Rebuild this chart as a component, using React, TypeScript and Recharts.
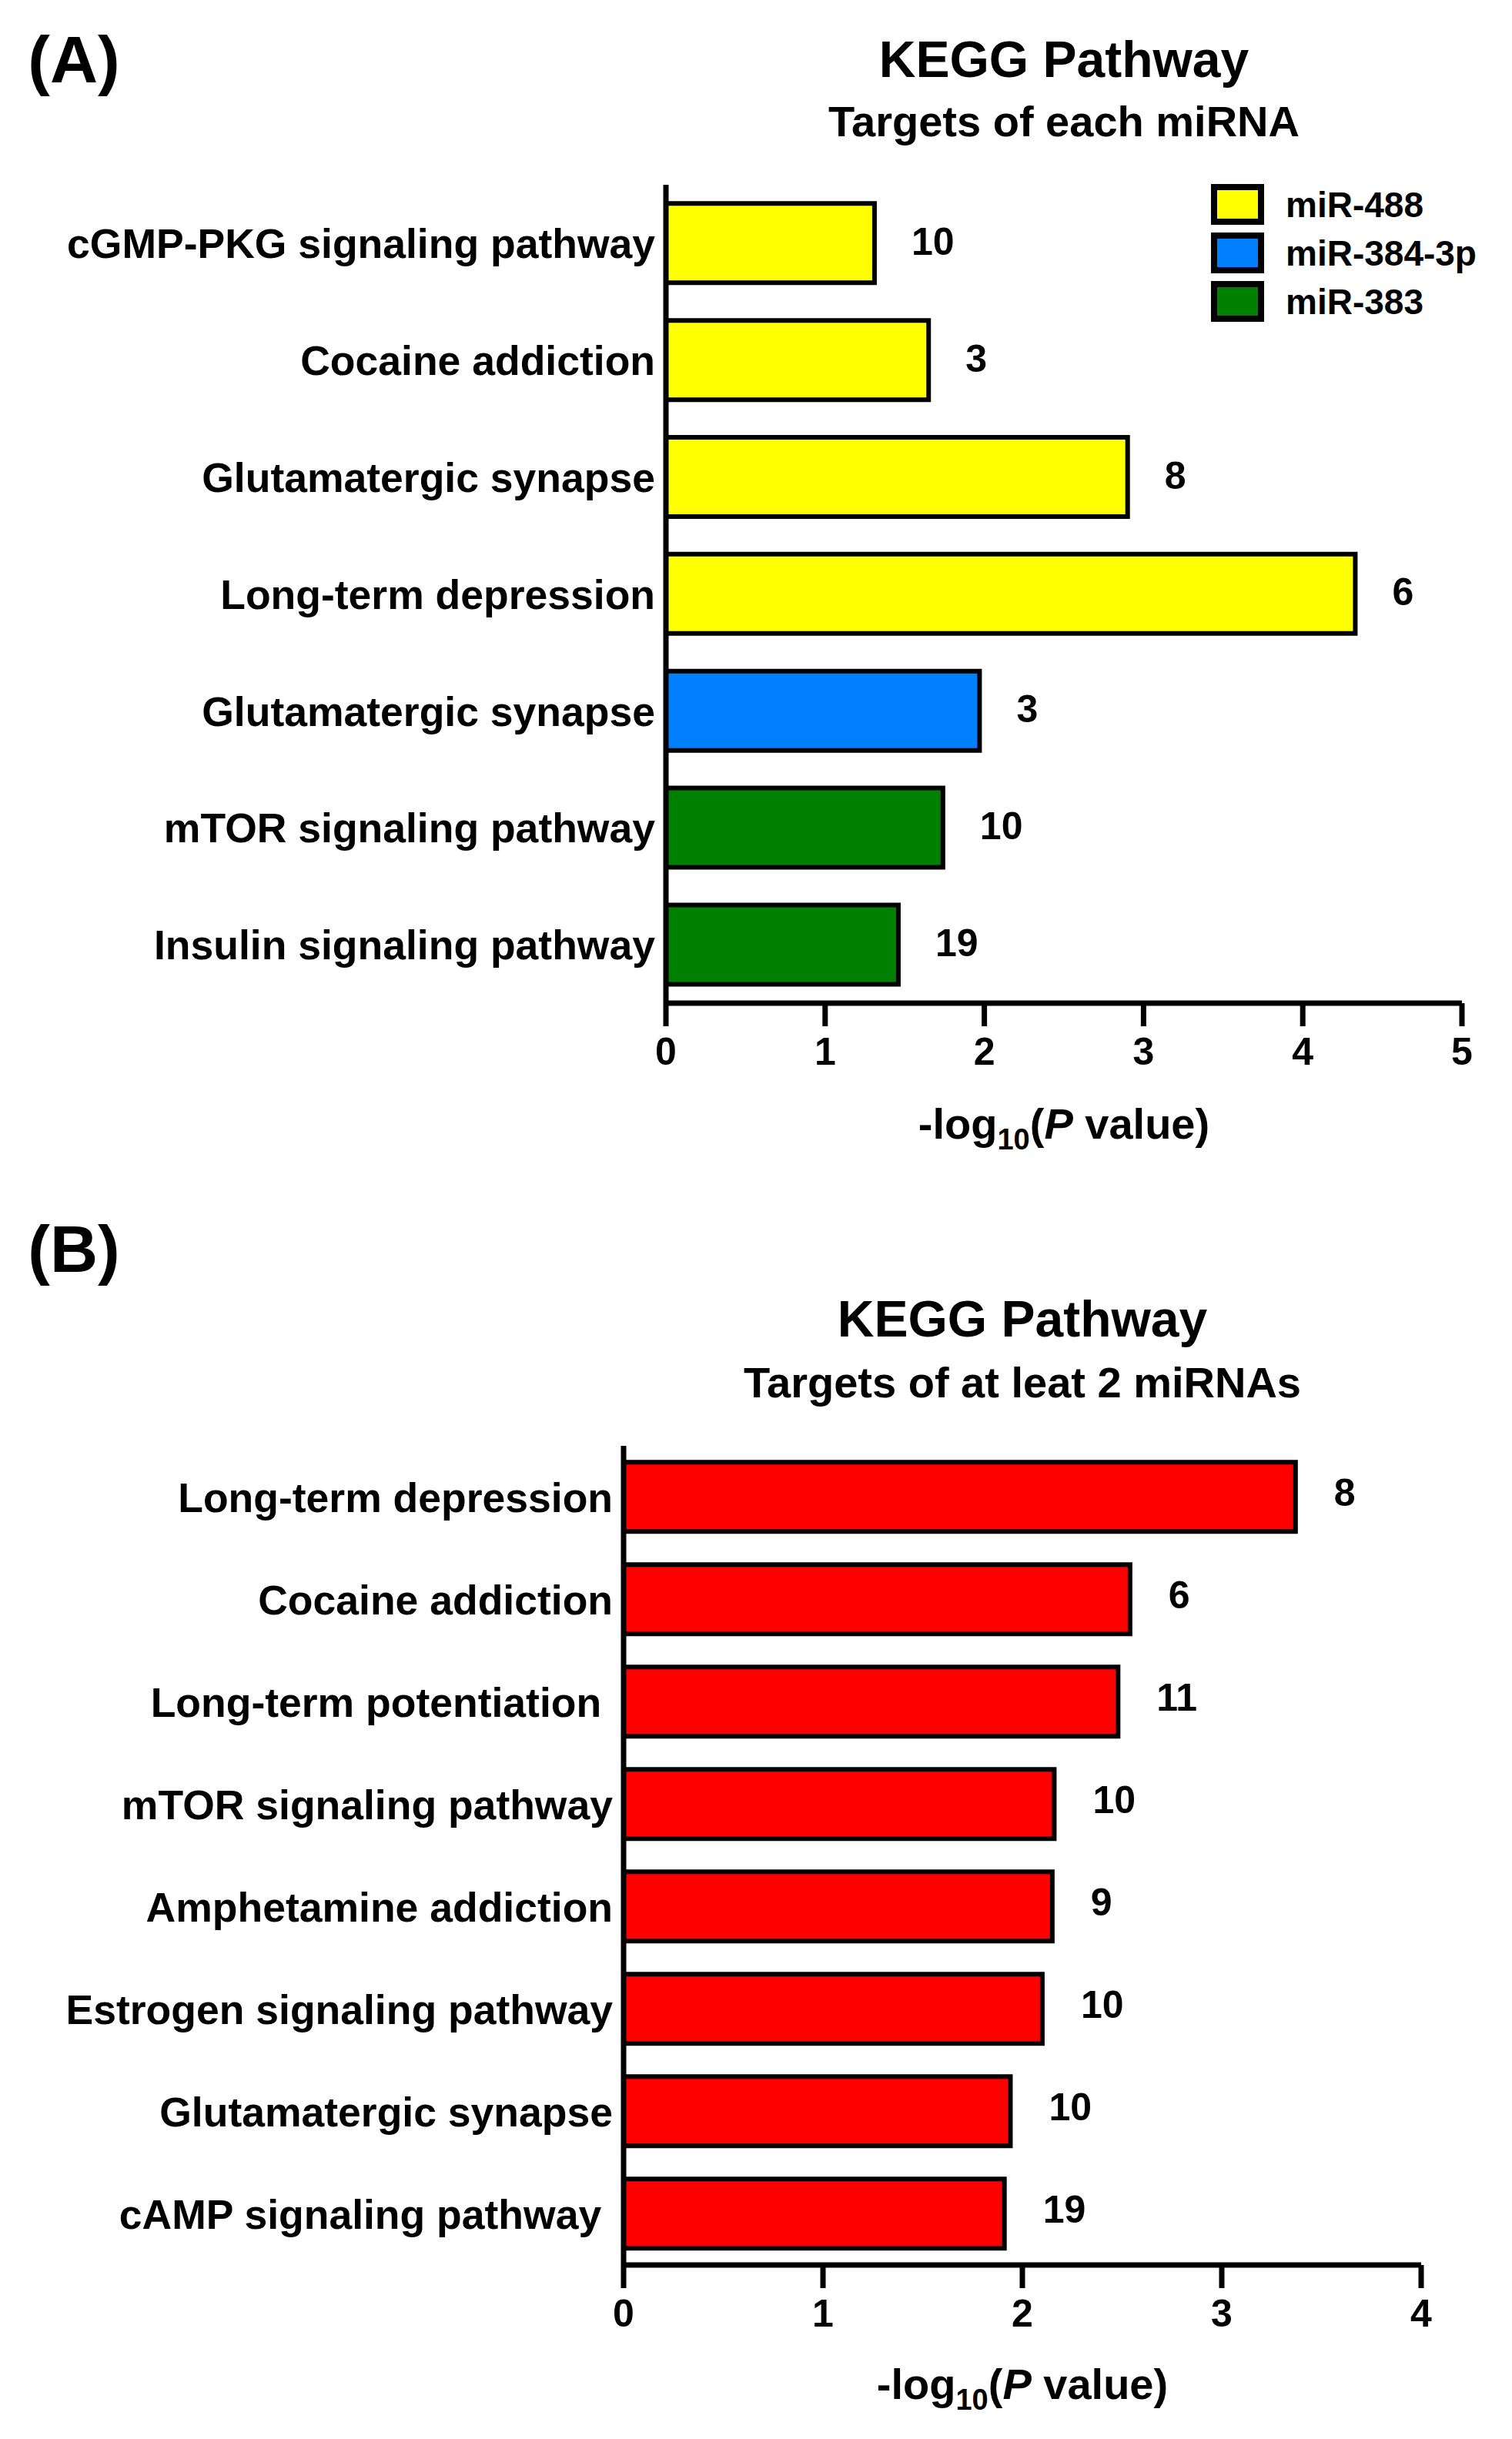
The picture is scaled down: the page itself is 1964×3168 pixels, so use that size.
import React from 'react';
import { BarChart, Bar, XAxis, YAxis, Cell, LabelList, Label, Legend } from 'recharts';

const FONT = 'Arial, "Liberation Sans", Helvetica, sans-serif';

// ---------- Panel A data ----------
const aPathways = [
  'cGMP-PKG signaling pathway',
  'Cocaine addiction',
  'Glutamatergic synapse',
  'Long-term depression',
  'Glutamatergic synapse',
  'mTOR signaling pathway',
  'Insulin signaling pathway',
];
const aValues = [1.31, 1.65, 2.9, 4.33, 1.97, 1.74, 1.46];
const aCounts = [10, 3, 8, 6, 3, 10, 19];
const aGroups = ['miR-488', 'miR-488', 'miR-488', 'miR-488', 'miR-384-3p', 'miR-383', 'miR-383'];
const aTicks = [0, 1, 2, 3, 4, 5];

// ---------- Legend ----------
const legendNames = ['miR-488', 'miR-384-3p', 'miR-383'];
const legendColors = ['#FFFF00', '#0080FF', '#008000'];

// ---------- Panel B data ----------
const bPathways = [
  'Long-term depression',
  'Cocaine addiction',
  'Long-term potentiation ',
  'mTOR signaling pathway',
  'Amphetamine addiction',
  'Estrogen signaling pathway',
  'Glutamatergic synapse',
  'cAMP signaling pathway ',
];
const bValues = [3.37, 2.54, 2.48, 2.16, 2.15, 2.1, 1.94, 1.91];
const bCounts = [8, 6, 11, 10, 9, 10, 10, 19];
const bTicks = [0, 1, 2, 3, 4];
const bColor = '#FF0000';

const aData = aPathways.map((p, i) => ({
  key: p + '|' + aGroups[i],
  name: p,
  value: aValues[i],
  count: aCounts[i],
  group: aGroups[i],
}));
const bData = bPathways.map((p, i) => ({
  key: p + '|' + i,
  name: p,
  value: bValues[i],
  count: bCounts[i],
}));

const colorOf = (g: string) => legendColors[legendNames.indexOf(g)];

const CatTick = (props: any) => {
  const { x, y, payload } = props;
  const name = String(payload.value).split('|')[0];
  return (
    <text
      x={x}
      y={y}
      dy="0.36em"
      textAnchor="end"
      fill="#000"
      fontFamily={FONT}
      fontWeight={700}
      fontSize={53.5}
      style={{ whiteSpace: 'pre' }}
    >
      {name}
    </text>
  );
};

const makeValueLabel = (offset: number, lift: number) => (props: any) => {
  const { x, y, width, height, value } = props;
  return (
    <text
      x={Number(x) + Number(width) + offset}
      y={Number(y) + Number(height) / 2 - lift}
      dy="0.36em"
      textAnchor="start"
      fill="#000"
      fontFamily={FONT}
      fontWeight={700}
      fontSize={50}
    >
      {value}
    </text>
  );
};

const makeAxisTitle = (dyOff: number) => (props: any) => {
  const vb = props.viewBox || {};
  const cx = vb.x + vb.width / 2;
  const cy = vb.y + dyOff;
  return (
    <text
      x={cx}
      y={cy}
      dy="0.36em"
      textAnchor="middle"
      fill="#000"
      fontFamily={FONT}
      fontWeight={700}
      fontSize={56}
    >
      <tspan>-log</tspan>
      <tspan fontSize={38} dy={14}>10</tspan>
      <tspan dy={-14}>(</tspan>
      <tspan fontStyle="italic">P</tspan>
      <tspan> value)</tspan>
    </text>
  );
};

const LegendBox = () => (
  <div style={{ fontFamily: FONT, fontWeight: 700, fontSize: 46, color: '#000' }}>
    {legendNames.map((n, i) => (
      <div key={n} style={{ display: 'flex', alignItems: 'center', height: 63 }}>
        <div
          style={{
            width: 53,
            height: 37,
            background: legendColors[i],
            border: '8px solid #000',
            marginRight: 28,
          }}
        />
        <span style={{ lineHeight: 1 }}>{n}</span>
      </div>
    ))}
  </div>
);

const textCenter = (x: number, y: number, size: number, text: string) => (
  <div
    style={{
      position: 'absolute',
      left: x,
      top: y,
      transform: 'translate(-50%, -50%)',
      fontFamily: FONT,
      fontWeight: 700,
      fontSize: size,
      lineHeight: 1,
      whiteSpace: 'nowrap',
      color: '#000',
    }}
  >
    {text}
  </div>
);

export default function App() {
  return (
    <div
      style={{
        position: 'absolute',
        left: 0,
        top: 0,
        width: 1964,
        height: 3168,
        background: '#fff',
        overflow: 'hidden',
      }}
    >
      {/* Panel letters & titles */}
      {textCenter(96, 77, 86, '(A)')}
      {textCenter(1382, 77, 66, 'KEGG Pathway')}
      {textCenter(1382, 158, 56, 'Targets of each miRNA')}
      {textCenter(96, 1622, 86, '(B)')}
      {textCenter(1328, 1713, 66, 'KEGG Pathway')}
      {textCenter(1328, 1796, 56, 'Targets of at leat 2 miRNAs')}

      {/* Panel A */}
      <div style={{ position: 'absolute', left: 0, top: 0 }}>
        <BarChart
          width={1964}
          height={1503}
          data={aData}
          layout="vertical"
          margin={{ top: 240, right: 65, bottom: 0, left: 0 }}
          barCategoryGap="16%"
        >
          <XAxis
            type="number"
            domain={[0, 5]}
            ticks={aTicks}
            interval={0}
            height={200}
            axisLine={{ stroke: '#000', strokeWidth: 7 }}
            tickLine={{ stroke: '#000', strokeWidth: 7 }}
            tickSize={30}
            tickMargin={14}
            tick={{ fill: '#000', fontSize: 50, fontWeight: 700, fontFamily: FONT }}
          >
            <Label content={makeAxisTitle(156)} />
          </XAxis>
          <YAxis
            type="category"
            dataKey="key"
            width={865}
            axisLine={{ stroke: '#000', strokeWidth: 7 }}
            tickLine={false}
            tickSize={0}
            tickMargin={14}
            interval={0}
            tick={<CatTick />}
          />
          <Legend
            layout="vertical"
            align="center"
            verticalAlign="middle"
            content={() => <LegendBox />}
            wrapperStyle={{ position: 'absolute', left: 1573, top: 234, width: 390, height: 200 }}
          />
          <Bar dataKey="value" stroke="#000" strokeWidth={6} isAnimationActive={false}>
            {aData.map((d, i) => (
              <Cell key={i} fill={colorOf(d.group)} />
            ))}
            <LabelList dataKey="count" content={makeValueLabel(48, 3)} />
          </Bar>
        </BarChart>
      </div>

      {/* Panel B */}
      <div style={{ position: 'absolute', left: 0, top: 1600 }}>
        <BarChart
          width={1964}
          height={1542}
          data={bData}
          layout="vertical"
          margin={{ top: 278, right: 118, bottom: 0, left: 0 }}
          barCategoryGap="16%"
        >
          <XAxis
            type="number"
            domain={[0, 4]}
            ticks={bTicks}
            interval={0}
            height={200}
            axisLine={{ stroke: '#000', strokeWidth: 7 }}
            tickLine={{ stroke: '#000', strokeWidth: 7 }}
            tickSize={30}
            tickMargin={14}
            tick={{ fill: '#000', fontSize: 50, fontWeight: 700, fontFamily: FONT }}
          >
            <Label content={makeAxisTitle(154)} />
          </XAxis>
          <YAxis
            type="category"
            dataKey="key"
            width={810}
            axisLine={{ stroke: '#000', strokeWidth: 7 }}
            tickLine={false}
            tickSize={0}
            tickMargin={14}
            interval={0}
            tick={<CatTick />}
          />
          <Bar dataKey="value" fill={bColor} stroke="#000" strokeWidth={6} isAnimationActive={false}>
            <LabelList dataKey="count" content={makeValueLabel(50, 6)} />
          </Bar>
        </BarChart>
      </div>
    </div>
  );
}
